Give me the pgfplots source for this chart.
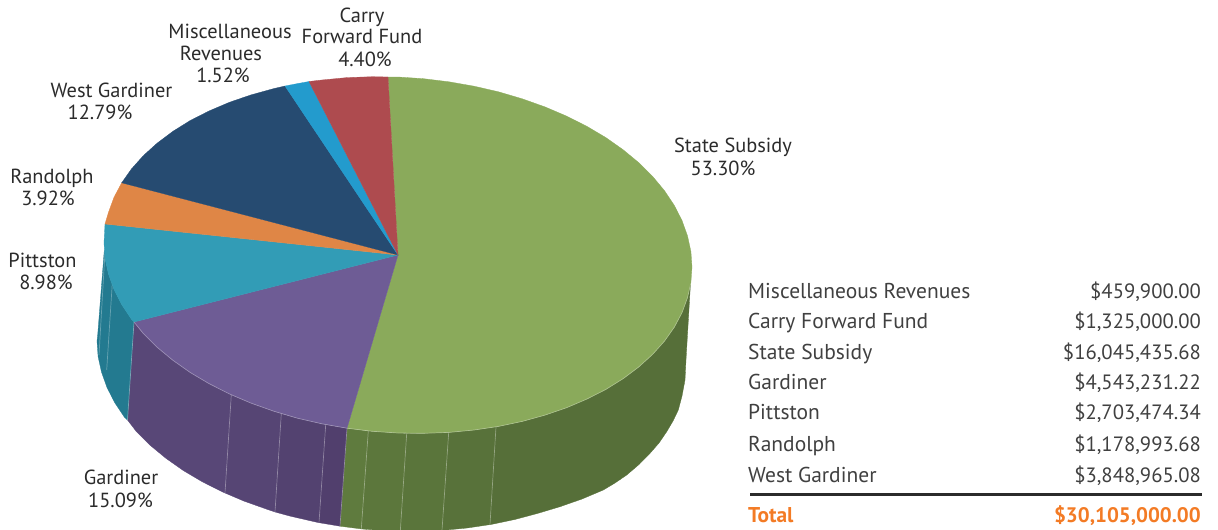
\documentclass[border=0pt]{standalone}
\usepackage{fontspec}
\setmainfont{PT Sans}
\usepackage{pgfplots}
\pgfplotsset{compat=1.18}
\definecolor{cGreen}{HTML}{8AAA5B}
\definecolor{cRed}{HTML}{AE4B4F}
\definecolor{cMisc}{HTML}{239BCD}
\definecolor{cNavy}{HTML}{264B71}
\definecolor{cOrange}{HTML}{DF8646}
\definecolor{cTeal}{HTML}{329CB6}
\definecolor{cTealS}{HTML}{237A90}
\definecolor{cPurple}{HTML}{6E5C95}
\definecolor{cTotal}{HTML}{F37B25}
\definecolor{cText}{HTML}{2B2B2B}
\definecolor{gA}{HTML}{5F7B3E}
\definecolor{gB}{HTML}{5C773C}
\definecolor{gC}{HTML}{5A753B}
\definecolor{gD}{HTML}{58723A}
\definecolor{gE}{HTML}{566F39}
\definecolor{pA}{HTML}{584777}
\definecolor{pB}{HTML}{564574}
\definecolor{pC}{HTML}{534270}
\definecolor{pD}{HTML}{513F6D}
\newcommand\lab[3]{\node[anchor=base,font=\fontsize{20.4}{24}\selectfont,text=cText,inner sep=0pt] at (axis cs:#1,#2) {#3};}
\newcommand\tl[2]{\node[anchor=base west,font=\fontsize{21.5}{24}\selectfont,text=cText!90,inner sep=0pt] at (axis cs:748,#1) {#2};}
\newcommand\tr[2]{\node[anchor=base east,font=\fontsize{20.7}{24}\selectfont,text=cText!90,inner sep=0pt] at (axis cs:1201,#1) {#2};}
\pgfplotsset{
  slice/.style={fill=#1,draw=#1,line width=0.3pt,no markers,forget plot},
  seam/.style={draw=white,opacity=0.3,line width=0.7pt,no markers,forget plot}
}
\begin{document}
\begin{tikzpicture}
\useasboundingbox (0,0) rectangle (1218pt,530pt);
\begin{axis}[
  at={(0,0)}, anchor=south west,
  scale only axis, width=1218pt, height=530pt,
  xmin=0, xmax=1218, ymin=0, ymax=530, y dir=reverse,
  hide axis, clip=true
]
% side walls: green
\addplot[slice=gE] coordinates {(496,426.8)(498.5,426.4)(522.2,421.4)(545,415.1)(566.6,407.7)(587,399)(605.9,389.4)(623.2,378.6)(638.8,366.9)(652.6,354.4)(664.5,341.1)(674.3,327.2)(682,312.7)(687.5,297.7)(690.4,285)
 (686,360)(685,380)(682,396)(678.3,410)(673,421)(666.7,431.7)(659,443)(650,453.3)(639,464.5)(626.7,475)(615,483)(603.3,490)(582,499)(560,506.7)(538,513.3)(515.2,519.4)(491.5,524.4)(490,524.6)} -- cycle;
\addplot[slice=gD] coordinates {(448.7,432.4)(474.1,430)(496,426.8)(490,524.6)(467.1,528)(442,530.4)} -- cycle;
\addplot[slice=gC] coordinates {(406.7,433.4)(423.6,433.3)(448.7,432.4)(442,530.4)(416.6,531.3)(400.3,531.2)} -- cycle;
\addplot[slice=gB] coordinates {(368.3,431.1)(372.4,431.3)(398,433)(406.7,433.4)(400.3,531.2)(391,531)(365.4,529.3)(361.3,528.9)} -- cycle;
\addplot[slice=gA] coordinates {(347,428.2)(368.3,431.1)(361.3,528.9)(340,526.2)} -- cycle;
% side walls: purple
\addplot[slice=pA] coordinates {(134,322)(143.4,333.6)(157.2,347.3)(172.8,360.2)(190.1,372.4)(209,383.6)(229.4,393.9)(231.3,394.8)
 (225,493)(222.4,491.9)(202,481.6)(183.1,470.4)(165.8,458.2)(150.2,445.3)(136.4,431.6)(127.5,420)} -- cycle;
\addplot[slice=pB] coordinates {(231.3,394.8)(251,403.1)(273.8,411.2)(281.3,413.6)(275,512)(266.8,509.2)(244,501.1)(225,493)} -- cycle;
\addplot[slice=pC] coordinates {(281.3,413.6)(297.5,418.2)(321.9,423.8)(325.7,424.6)(319,522.7)(314.9,521.8)(290.5,516.2)(275,512)} -- cycle;
\addplot[slice=pD] coordinates {(325.7,424.6)(347,428.2)(340,526.2)(319,522.7)} -- cycle;
% side wall: teal
\addplot[slice=cTealS] coordinates {(134,322)(131.5,319.3)(121.7,304.6)(114,289.5)(108.5,274.1)(105.1,258.6)(104.3,250)
 (97.7,335)(97,341)(98.1,356.6)(101.5,372.1)(107,387.5)(114.7,402.6)(124.5,417.3)(127.5,420)} -- cycle;
% seams on the walls
\addplot[seam] coordinates {(231.3,394.8)(225,493)};
\addplot[seam] coordinates {(281.3,413.6)(275,512)};
\addplot[seam] coordinates {(325.7,424.6)(319,522.7)};
\addplot[seam] coordinates {(347,428.2)(340,526.2)};
\addplot[seam] coordinates {(368.3,431.1)(361.3,528.9)};
\addplot[seam] coordinates {(406.7,433.4)(400.3,531.2)};
\addplot[seam] coordinates {(448.7,432.4)(442,530.4)};
\addplot[seam] coordinates {(496,426.8)(490,524.6)};
\addplot[seam] coordinates {(134,322)(127.5,420)};
\addplot[seam] coordinates {(112.3,283)(106.7,370)};
\addplot[seam] coordinates {(105,252)(99,355)};
% top: State Subsidy
\addplot[slice=cGreen] coordinates {(398,255)(388,77)(398,77)(423.6,78.7)(449,81.8)(474.1,86.2)(498.5,91.8)(522.2,98.8)(545,106.9)(566.6,116.1)(587,126.4)(605.9,137.6)(623.2,149.8)(638.8,162.7)(652.6,176.4)(664.5,190.7)(674.3,205.4)(682,220.5)(687.5,235.9)(690.9,251.5)(692,267)
 (690.9,282.4)(687.5,297.7)(682,312.7)(674.3,327.2)(664.5,341.1)(652.6,354.4)(638.8,366.9)(623.2,378.6)(605.9,389.4)(587,399)(566.6,407.7)(545,415.1)(522.2,421.4)(498.5,426.4)(474.1,430)(449,432.4)(423.6,433.3)(398,433)(372.4,431.3)(347,428.2)} -- cycle;
% top: Gardiner
\addplot[slice=cPurple] coordinates {(398,255)(347,428.2)(321.9,423.8)(297.5,418.2)(273.8,411.2)(251,403.1)(229.4,393.9)(209,383.6)(190.1,372.4)(172.8,360.2)(157.2,347.3)(143.4,333.6)(134,322)} -- cycle;
% top: Pittston
\addplot[slice=cTeal] coordinates {(398,255)(134,322)(131.5,319.3)(121.7,304.6)(114,289.5)(108.5,274.1)(105.1,258.6)(104,243)(105,224)} -- cycle;
% top: Randolph
\addplot[slice=cOrange] coordinates {(398,255)(105,224)(108.5,212.3)(114,197.3)(121.7,182.8)} -- cycle;
% top: West Gardiner
\addplot[slice=cNavy] coordinates {(398,255)(121.7,182.8)(131.5,168.9)(143.4,155.6)(157.2,143.1)(172.8,131.4)(190.1,120.6)(209,111)(229.4,102.3)(251,94.9)(273.8,88.6)(285,86)} -- cycle;
% top: Miscellaneous Revenues
\addplot[slice=cMisc] coordinates {(398,255)(285,86)(297.5,83.6)(309,81.5)} -- cycle;
% top: Carry Forward Fund
\addplot[slice=cRed] coordinates {(398,255)(309,81.5)(321.9,80)(347,77.6)(372.4,76.7)(388,77)} -- cycle;
% rim highlight
\addplot[seam] coordinates {(134,322)(143.4,333.6)(157.2,347.3)(172.8,360.2)(190.1,372.4)(209,383.6)(229.4,393.9)(251,403.1)(273.8,411.2)(297.5,418.2)(321.9,423.8)(347,428.2)(372.4,431.3)(398,433)(423.6,433.3)(449,432.4)(474.1,430)(498.5,426.4)(522.2,421.4)(545,415.1)(566.6,407.7)(587,399)(605.9,389.4)(623.2,378.6)(638.8,366.9)(652.6,354.4)(664.5,341.1)(674.3,327.2)(682,312.7)(687.5,297.7)(690.4,285)};
% rule under the table
\addplot[draw=cText,line width=2.6pt,no markers,forget plot] coordinates {(750,494.7)(1202,494.7)};
% pie labels
\lab{362}{22.2}{Carry}
\lab{362}{43}{Forward Fund}
\lab{365}{66}{4.40\%}
\lab{230}{38}{Miscellaneous}
\lab{221}{60}{Revenues}
\lab{223}{82}{1.52\%}
\lab{111.5}{97}{West Gardiner}
\lab{100}{119}{12.79\%}
\lab{52}{183}{Randolph}
\lab{48}{205}{3.92\%}
\lab{42.5}{267}{Pittston}
\lab{46}{289}{8.98\%}
\lab{121}{484}{Gardiner}
\lab{120.5}{507}{15.09\%}
\lab{733}{152.5}{State Subsidy}
\lab{723}{175}{53.30\%}
% table
\tl{298}{Miscellaneous Revenues}\tr{298}{\$459,900.00}
\tl{328}{Carry Forward Fund}\tr{328}{\$1,325,000.00}
\tl{359}{State Subsidy}\tr{359}{\$16,045,435.68}
\tl{389}{Gardiner}\tr{389}{\$4,543,231.22}
\tl{419}{Pittston}\tr{419}{\$2,703,474.34}
\tl{451}{Randolph}\tr{451}{\$1,178,993.68}
\tl{482}{West Gardiner}\tr{482}{\$3,848,965.08}
\node[anchor=base west,font=\fontsize{21.4}{24}\selectfont\bfseries,text=cTotal,inner sep=0pt] at (axis cs:748,522) {Total};
\node[anchor=base east,font=\fontsize{21}{24}\selectfont\bfseries,text=cTotal,inner sep=0pt] at (axis cs:1201,522) {\$30,105,000.00};
\end{axis}
\end{tikzpicture}
\end{document}
